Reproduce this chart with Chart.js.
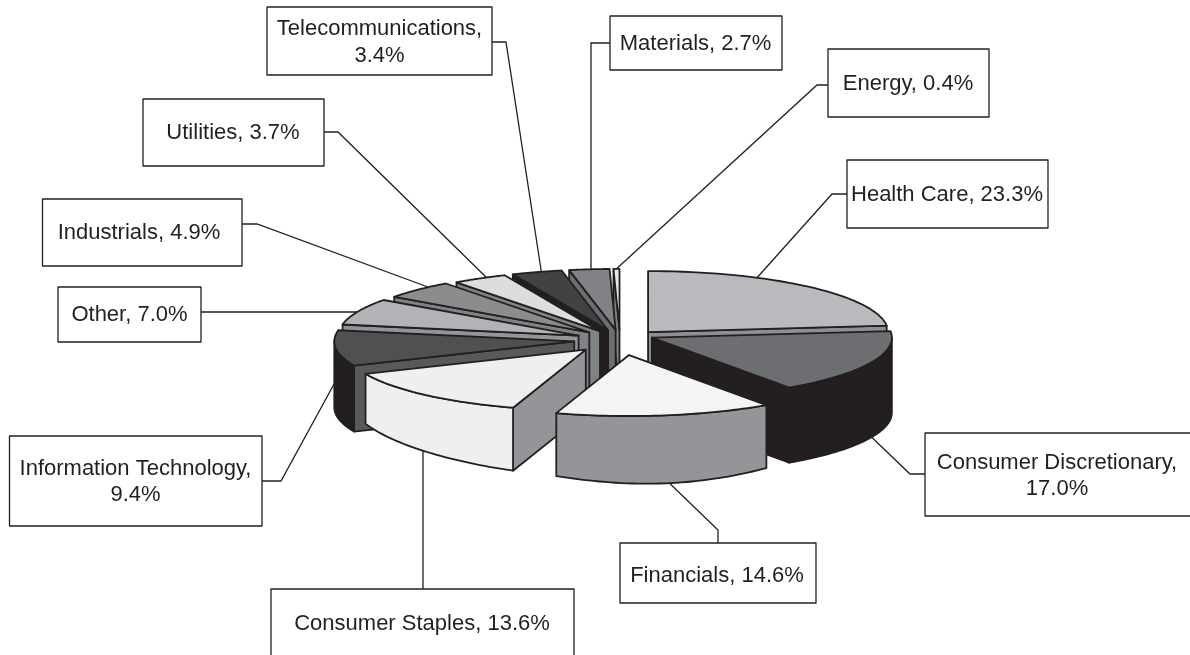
<!DOCTYPE html>
<html lang="en">

<head>
    <meta charset="UTF-8">
    <title>Sector weights</title>
    <script src="https://cdn.jsdelivr.net/npm/chart.js"></script>
    <style>
        html, body { margin: 0; padding: 0; background: #fff; overflow: hidden; }
        canvas { display: block; }
    </style>
</head>

<body>
    <canvas id="sectorPie" width="1190" height="655"></canvas>

    <script>
        const categories = ['Health Care', 'Consumer Discretionary', 'Financials', 'Consumer Staples',
            'Information Technology', 'Other', 'Industrials', 'Utilities', 'Telecommunications', 'Materials', 'Energy'];
        const shares = [23.3, 17.0, 14.6, 13.6, 9.4, 7.0, 4.9, 3.7, 3.4, 2.7, 0.4];

        // how far each wedge is pulled out, and a small vertical nudge
        const explode = [42, 35, 60, 51, 46, 45, 43, 40, 40, 40, 40];
        const lift = [0, -6, 0, 0, 0, 0, 0, 0, 0, 0, 0];

        const topColors = ['#b9babd', '#6d6e71', '#f4f4f5', '#efeff0', '#4f5052', '#b1b3b6', '#8a8c8e', '#dcddde', '#414244', '#808285', '#e6e7e8'];
        const wallColors = ['#939598', '#231f20', '#939598', '#efeff0', '#231f20', '#939598', '#808285', '#808285', '#231f20', '#6d6e71', '#808285'];
        const cutColors = ['#8e8f92', '#231f20', '#939598', '#939598', '#58595b', '#939598', '#808285', '#808285', '#231f20', '#6d6e71', '#808285'];
        const depthStart = [65, 75, 63, 63, 66, 65, 65, 65, 65, 65, 65];
        const depthEnd = [65, 75, 63, 50, 66, 65, 65, 65, 65, 65, 65];
        const depthBulge = [0, 0, 5, 0, 0, 0, 0, 0, 0, 0, 0];

        const SQUASH = 0.254;
        const INK = '#231f20';

        // callout boxes: box rect, text centre + rows, leader polyline
        const callouts = [
            { box: [847, 160, 201, 68], text: [947, [195]], line: [[847, 194], [832, 194], [755, 280]] },
            { box: [925, 433, 275, 83], text: [1057, [463, 489]], line: [[925, 474], [910, 474], [860, 426]] },
            { box: [620, 543, 196, 60], text: [717, [576]], line: [[718, 543], [718, 530], [662, 476]] },
            { box: [271, 589, 303, 80], text: [422, [624]], line: [[423, 589], [423, 445]] },
            { box: [9.5, 436, 252.5, 90], text: [135.5, [469, 495]], line: [[262, 481], [281, 481], [339, 375]] },
            { box: [58, 287, 143, 55], text: [129.5, [315]], line: [[201, 312], [370, 312]] },
            { box: [42.5, 199, 199.5, 67], text: [139, [233]], line: [[242, 224], [257, 224], [436, 290]] },
            { box: [143, 99, 181, 67], text: [233, [133]], line: [[324, 132], [338, 132], [490, 281]] },
            { box: [267, 7, 225, 68], text: [379.5, [29, 56]], line: [[492, 42], [506, 42], [542, 276]] },
            { box: [610, 16, 172, 54], text: [695.6, [44]], line: [[610, 43], [591, 43], [591, 274]] },
            { box: [828, 49, 161, 68], text: [908, [84]], line: [[828, 85], [817, 85], [613, 272]] }
        ];

        function polygon(ctx, pts, fill) {
            ctx.beginPath();
            pts.forEach((p, n) => n ? ctx.lineTo(p[0], p[1]) : ctx.moveTo(p[0], p[1]));
            ctx.closePath();
            ctx.fillStyle = fill;
            ctx.fill();
            ctx.stroke();
        }

        function drawSlice(ctx, arc, i) {
            const { x, y, startAngle: a0, endAngle: a1, outerRadius: r } = arc;
            const mid = (a0 + a1) / 2;
            const ox = x + Math.cos(mid) * explode[i];
            const oy = y + Math.sin(mid) * explode[i] * SQUASH + lift[i];
            const rim = th => [ox + Math.cos(th) * r, oy + Math.sin(th) * r * SQUASH];
            const depthAt = th => {
                const f = (th - a0) / (a1 - a0);
                return depthStart[i] + (depthEnd[i] - depthStart[i]) * f + depthBulge[i] * Math.sin(f * Math.PI);
            };
            const down = (p, d) => [p[0], p[1] + d];
            const apex = [ox, oy];

            ctx.strokeStyle = INK;
            ctx.lineWidth = 1.8;
            ctx.lineJoin = 'round';

            // radial cut faces, only the ones turned towards the viewer
            if (Math.cos(a0) < 0) {
                const d = depthStart[i];
                polygon(ctx, [apex, rim(a0), down(rim(a0), d), down(apex, d)], cutColors[i]);
            }
            if (Math.cos(a1) > 0) {
                const d = depthEnd[i];
                polygon(ctx, [apex, rim(a1), down(rim(a1), d), down(apex, d)], cutColors[i]);
            }

            // outer wall
            const t0 = Math.max(a0, 0);
            const t1 = Math.min(a1, Math.PI);
            if (t1 > t0) {
                const upper = [];
                const lower = [];
                for (let s = 0; s <= 40; s++) {
                    const th = t0 + (t1 - t0) * s / 40;
                    upper.push(rim(th));
                    lower.unshift(down(rim(th), depthAt(th)));
                }
                polygon(ctx, upper.concat(lower), wallColors[i]);
            }

            // top face: library arc, flattened
            ctx.save();
            ctx.translate(ox, oy);
            ctx.scale(1, SQUASH);
            ctx.translate(-x, -y);
            arc.draw(ctx);
            ctx.restore();

            ctx.beginPath();
            ctx.moveTo(apex[0], apex[1]);
            for (let s = 0; s <= 40; s++) {
                const p = rim(a0 + (a1 - a0) * s / 40);
                ctx.lineTo(p[0], p[1]);
            }
            ctx.closePath();
            ctx.stroke();
        }

        const pie3d = {
            id: 'pie3d',
            beforeDatasetsDraw(chart) {
                const ctx = chart.ctx;
                const arcs = chart.getDatasetMeta(0).data;
                const midY = a => Math.sin((a.startAngle + a.endAngle) / 2);

                // leaders go under the pie so they stop at its edge
                ctx.save();
                ctx.strokeStyle = INK;
                ctx.lineWidth = 1.3;
                callouts.forEach(c => {
                    ctx.beginPath();
                    c.line.forEach((p, n) => n ? ctx.lineTo(p[0], p[1]) : ctx.moveTo(p[0], p[1]));
                    ctx.stroke();
                });
                ctx.restore();

                arcs.map((a, i) => i)
                    .sort((p, q) => midY(arcs[p]) - midY(arcs[q]))
                    .forEach(i => drawSlice(ctx, arcs[i], i));
                return false;
            },
            afterDraw(chart) {
                const ctx = chart.ctx;
                ctx.save();
                ctx.strokeStyle = INK;
                ctx.lineWidth = 1.3;
                ctx.font = '22px "Liberation Sans"';
                ctx.textAlign = 'center';
                ctx.textBaseline = 'middle';
                callouts.forEach((c, i) => {
                    ctx.fillStyle = '#fff';
                    ctx.fillRect(...c.box);
                    ctx.strokeRect(...c.box);

                    const name = categories[i] + ',';
                    const pct = shares[i].toFixed(1) + '%';
                    const rows = c.text[1].length > 1 ? [name, pct] : [name + ' ' + pct];
                    ctx.fillStyle = INK;
                    rows.forEach((t, n) => ctx.fillText(t, c.text[0], c.text[1][n]));
                });
                ctx.restore();
            }
        };

        new Chart(document.getElementById('sectorPie'), {
            type: 'pie',
            data: {
                labels: categories,
                datasets: [{
                    data: shares,
                    backgroundColor: topColors,
                    borderWidth: 0
                }]
            },
            options: {
                responsive: false,
                animation: false,
                radius: 240,
                layout: { padding: { left: 50, top: 25 } },
                plugins: {
                    legend: { display: false },
                    tooltip: { enabled: false }
                }
            },
            plugins: [pie3d]
        });
    </script>

</body>

</html>
